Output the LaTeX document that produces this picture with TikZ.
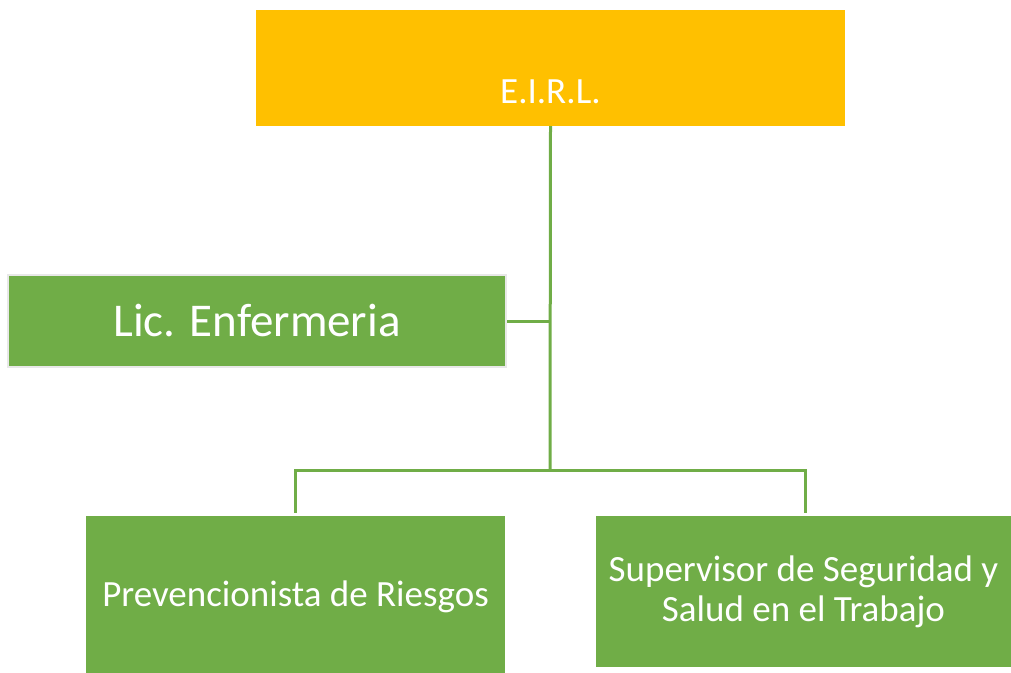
\documentclass[tikz,border=0pt]{standalone}
\usepackage{fontspec}
\setmainfont{Carlito}
\usepackage{xcolor}
\usetikzlibrary{calc,positioning}
\definecolor{orgyellow}{HTML}{FFC000}
\definecolor{orggreen}{HTML}{70AD47}
\tikzset{
    orgbox/.style={rectangle, fill=orggreen, text=white, align=center, inner sep=0pt},
    link/.style={draw=orggreen, line width=3pt}
}

\begin{document}
\begin{tikzpicture}[x=1pt, y=-1pt]
    \useasboundingbox (0, 0) rectangle (1011, 672);
    % boxes
    \node[orgbox, fill=orgyellow, minimum width=589pt, minimum height=116pt, font=\fontsize{37}{40}\selectfont] (eirl) at (550.5, 68) {\raisebox{-35pt}[0pt][0pt]{E.I.R.L.}};
    \node[orgbox, draw=gray!18, line width=2pt, minimum width=498pt, minimum height=92pt, font=\fontsize{47}{56}\selectfont] (lic) at (257, 321) {Lic. Enfermeria};
    \node[orgbox, minimum width=419pt, minimum height=162pt, font=\fontsize{37}{40}\selectfont] (prev) at (295.5, 597) {Prevencionista de Riesgos};
    \node[orgbox, minimum width=415pt, minimum height=151pt, font=\fontsize{37}{40}\selectfont] (sup) at (803.5, 591.5) {Supervisor de Seguridad y\\Salud en el Trabajo};
    \coordinate (bus) at (550, 470);
    % connectors
    \draw[link] (eirl.south) -- (bus);
    \draw[link] (lic.east) -- (lic.east -| eirl.south);
    \draw[link, shorten <=3pt, shorten >=3pt] (prev.north) |- (bus) -| ([xshift=1.5pt]sup.north);
\end{tikzpicture}
\end{document}
